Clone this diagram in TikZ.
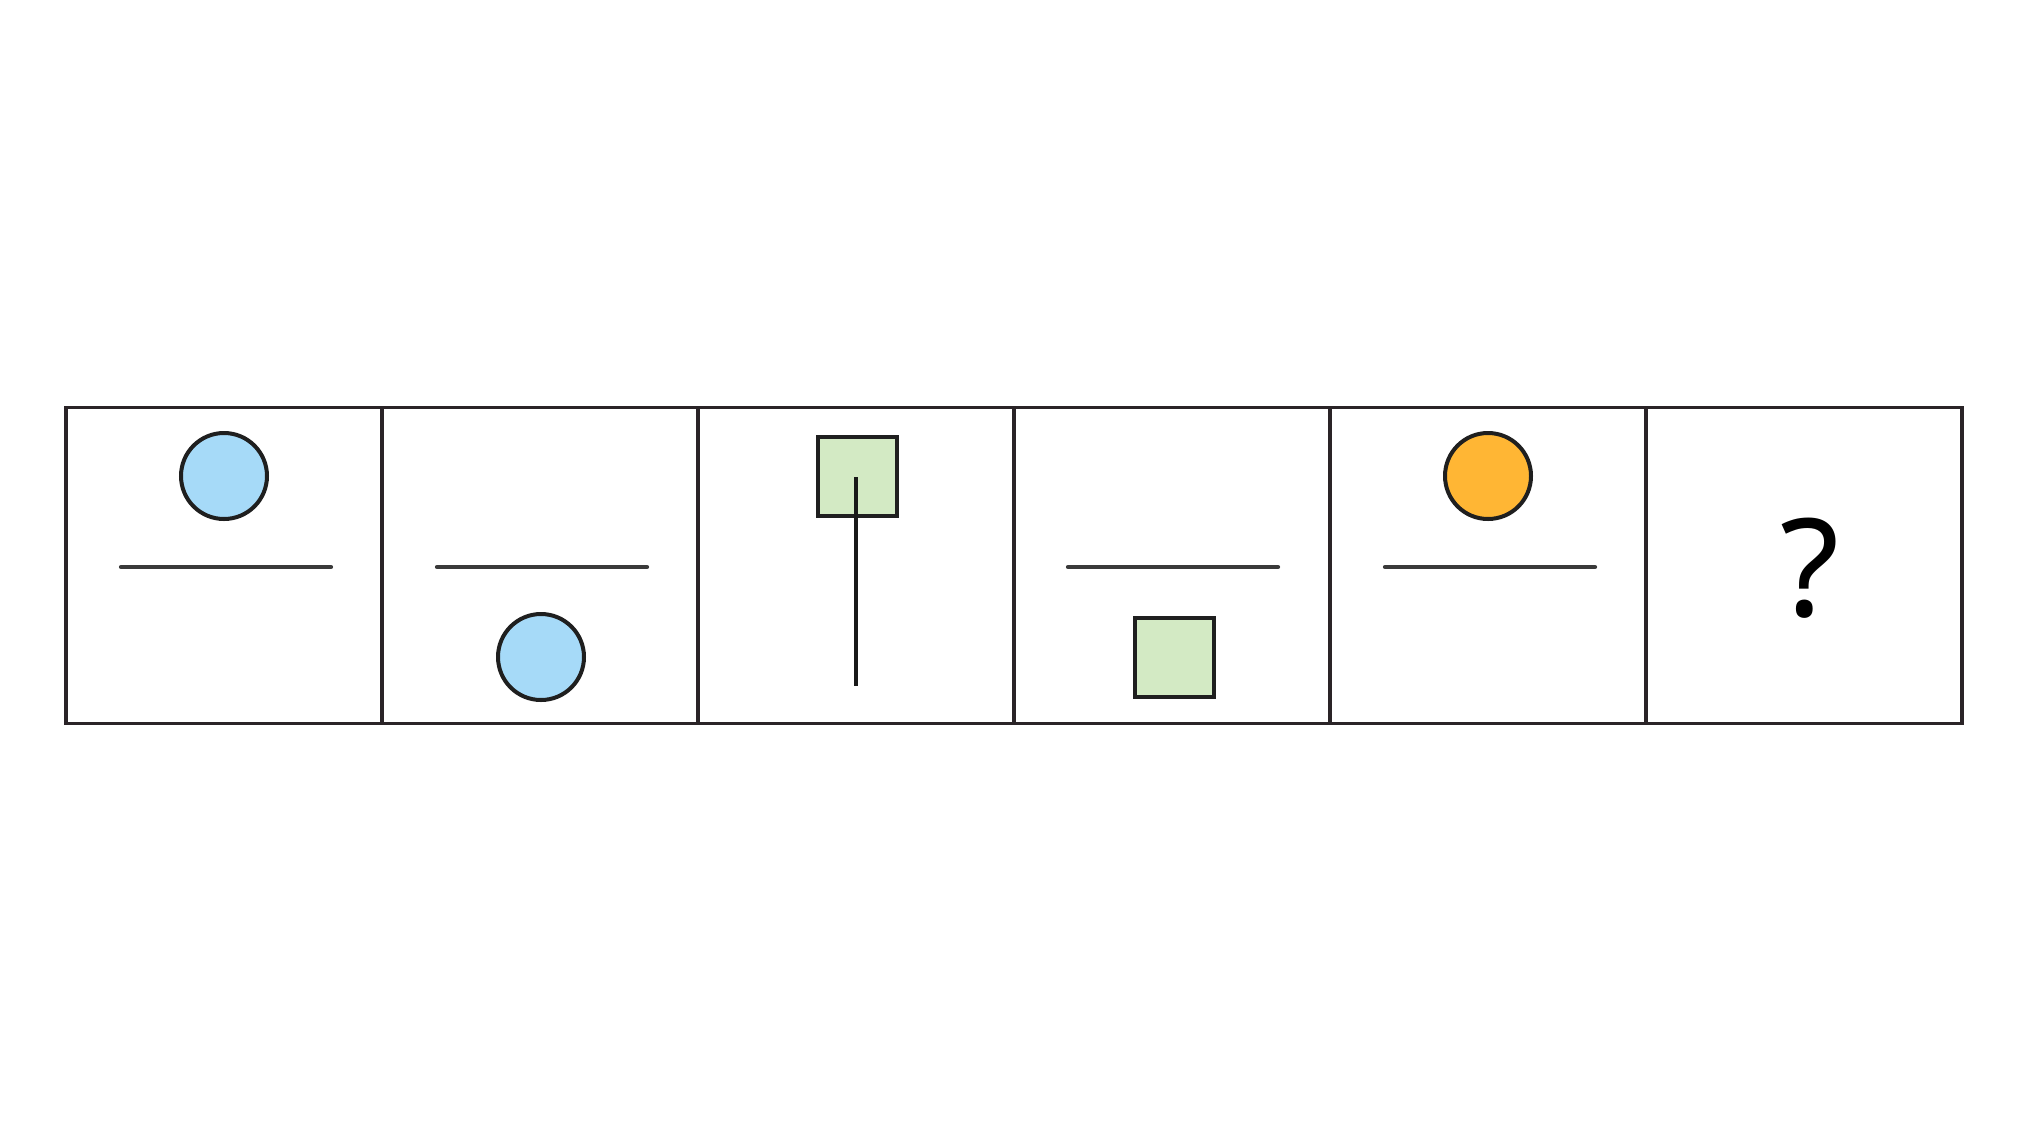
\documentclass[tikz,border=0pt]{standalone}
\usepackage{fontspec}
\newfontfamily\qfont{Noto Sans}
\definecolor{bluefill}{HTML}{A6DAF8}
\definecolor{greenfill}{HTML}{D3EAC4}
\definecolor{orangefill}{HTML}{FFB634}
\definecolor{frame}{HTML}{2A2427}
\definecolor{bar}{HTML}{3A3A3A}
\begin{document}
\begin{tikzpicture}[x=1pt,y=-1pt,
  cell/.style={draw=frame,line width=3.6pt,minimum size=316pt,inner sep=0pt},
  ball/.style={circle,draw=black!88,line width=4pt,minimum size=86pt,inner sep=0pt},
  block/.style={rectangle,draw=black!88,line width=4pt,fill=greenfill,minimum size=79pt,inner sep=0pt},
  bar/.style={draw=bar,line width=4.2pt,line cap=round},
  stick/.style={draw=black!90,line width=3.4pt}
]
\useasboundingbox (0,0) rectangle (2031,1125);
\fill[white] (0,0) rectangle (2031,1125);
% cells
\node[cell] (c1) at (224,565.5) {};
\node[cell] (c2) at (540,565.5) {};
\node[cell] (c3) at (856,565.5) {};
\node[cell] (c4) at (1172,565.5) {};
\node[cell] (c5) at (1488,565.5) {};
\node[cell] (c6) at (1804,565.5) {};
% cell 1
\node[ball,fill=bluefill] (b1) at (224,476) {};
\coordinate (l1a) at (121,567); \coordinate (l1b) at (331,567);
\draw[bar] (l1a) -- (l1b);
% cell 2
\coordinate (l2a) at (437,567); \coordinate (l2b) at (647,567);
\draw[bar] (l2a) -- (l2b);
\node[ball,fill=bluefill] (b2) at (541,657) {};
% cell 3
\node[block] (s3) at (857,476) {};
\coordinate (v3) at (856,686);
\draw[stick] (856,477) -- (v3);
% cell 4
\coordinate (l4a) at (1068,567); \coordinate (l4b) at (1278,567);
\draw[bar] (l4a) -- (l4b);
\node[block] (s4) at (1174,657) {};
% cell 5
\node[ball,fill=orangefill] (b5) at (1488,476) {};
\coordinate (l5a) at (1385,567); \coordinate (l5b) at (1595,567);
\draw[bar] (l5a) -- (l5b);
% cell 6
\node[inner sep=0pt,text=black] (q) at (1810,568) {\qfont\fontsize{136}{136}\selectfont ?};
\end{tikzpicture}
\end{document}
